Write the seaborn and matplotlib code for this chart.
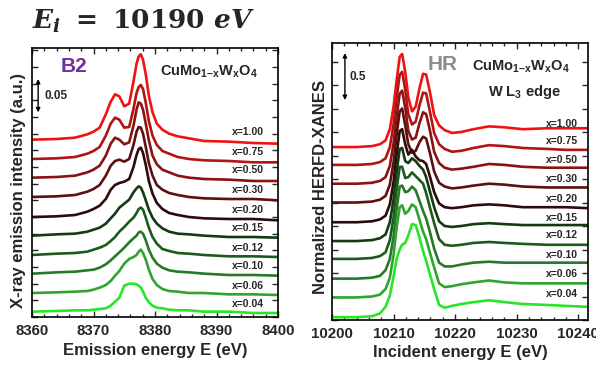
import matplotlib
matplotlib.use("Agg")
import matplotlib.pyplot as plt
import numpy as np
import pandas as pd
import seaborn as sns
from matplotlib.ticker import MultipleLocator

# ---------------- data ----------------
conc = ["1.00", "0.75", "0.50", "0.30", "0.20", "0.15", "0.12", "0.10", "0.06", "0.04"]
colors = ["#f01212", "#b01414", "#8a1212", "#5e1010", "#2e0a0a",
          "#133a13", "#1c5a1c", "#267a26", "#2fa42f", "#26e626"]

# B2 emission spectra (intensity in 1e-3 a.u. above each curve's offset)
xes_energy = [8360, 8364, 8367, 8369, 8370, 8371, 8372, 8372.8, 8373.5, 8374.2, 8375, 8375.8,
              8376.5, 8377.0, 8377.35, 8377.7, 8378.05, 8378.5, 8379, 8379.6, 8380.3, 8381.2,
              8382.3, 8383.7, 8385.5, 8388, 8392, 8396, 8400]
xes_offset = [266, 237, 209, 180, 150, 122, 93, 65, 36, 8]
xes_100 = [0, 1, 3, 8, 12, 18, 38, 57, 68, 65, 50, 54, 87, 114, 125, 128, 120, 98, 66, 41, 24, 15, 9, 5, 2, -2, -3, -5, -6]
xes_075 = [0, 1, 3, 8, 12, 18, 35, 53, 62, 59, 47, 48, 75, 99, 108, 111, 105, 84, 57, 35, 21, 12, 8, 3, 0, -2, -3, -5, -5]
xes_050 = [0, 1, 3, 8, 12, 18, 33, 51, 60, 57, 50, 53, 78, 102, 113, 111, 102, 81, 56, 33, 20, 12, 8, 3, 0, -2, -3, -5, -5]
xes_030 = [0, 1, 3, 8, 12, 18, 32, 47, 54, 56, 53, 57, 78, 98, 105, 104, 95, 75, 51, 32, 18, 11, 6, 3, 0, -2, -3, -3, -5]
xes_020 = [0, 1, 3, 8, 12, 17, 27, 41, 48, 51, 53, 57, 75, 93, 102, 104, 96, 78, 54, 35, 21, 12, 6, 3, 0, -2, -3, -3, -5]
xes_015 = [0, 2, 3, 6, 9, 12, 18, 26, 33, 42, 48, 54, 65, 71, 74, 72, 65, 53, 39, 27, 18, 11, 6, 3, 2, 0, -2, -2, -3]
xes_012 = [0, 2, 3, 5, 8, 11, 15, 21, 27, 35, 42, 50, 56, 63, 69, 71, 68, 56, 41, 27, 17, 9, 6, 3, 2, 0, -2, -2, -3]
xes_010 = [0, 2, 3, 5, 6, 9, 14, 20, 26, 32, 39, 47, 53, 57, 62, 63, 60, 50, 36, 24, 15, 9, 5, 3, 2, 0, -2, -2, -3]
xes_006 = [0, 1, 2, 3, 5, 8, 12, 18, 26, 33, 44, 51, 54, 57, 62, 65, 60, 50, 35, 21, 12, 6, 3, 2, 0, 0, -2, -2, -3]
xes_004 = [0, 1, 2, 2, 3, 4, 5, 9, 15, 21, 39, 42, 42, 41, 39, 36, 30, 21, 14, 9, 6, 5, 3, 2, 2, 0, 0, -2, -2]

# HERFD-XANES W L3 edge (normalized, in units of 0.01 above offset)
hr_energy = [10200, 10204, 10206.5, 10207.8, 10208.7, 10209.4, 10210.0, 10210.5, 10211.0, 10211.4,
             10211.9, 10212.4, 10213.0, 10213.6, 10214.2, 10214.8, 10215.3, 10215.9, 10216.6,
             10217.4, 10218.3, 10219.5, 10221, 10223, 10225.5, 10228, 10231, 10235, 10238, 10241.6]
hr_offset = [184, 165, 145, 125, 104, 84, 65, 44, 24, 3]
hr_100 = [0, 0, 1, 3, 7, 19, 43, 71, 96, 99, 80, 53, 38, 43, 62, 78, 77, 59, 34, 23, 18, 15, 16, 19, 22, 21, 19, 20, 20, 20]
hr_075 = [0, 0, 1, 3, 7, 19, 43, 71, 96, 99, 80, 54, 43, 46, 63, 77, 76, 57, 34, 22, 17, 14, 15, 18, 21, 20, 18, 17, 16, 16]
hr_050 = [0, 0, 1, 3, 7, 19, 43, 71, 96, 99, 81, 56, 47, 49, 64, 76, 74, 57, 34, 22, 17, 15, 16, 18, 21, 20, 18, 17, 17, 17]
hr_030 = [0, 0, 1, 3, 7, 19, 43, 72, 97, 100, 82, 62, 53, 55, 64, 70, 68, 53, 33, 21, 17, 15, 16, 18, 20, 19, 17, 16, 16, 16]
hr_020 = [0, 0, 1, 3, 7, 19, 43, 72, 97, 99, 83, 72, 77, 70, 66, 65, 62, 49, 32, 20, 16, 15, 16, 18, 19, 18, 16, 16, 16, 15]
hr_015 = [0, 0, 1, 3, 7, 20, 44, 73, 98, 99, 85, 83, 88, 85, 80, 76, 68, 53, 36, 21, 16, 15, 16, 18, 19, 18, 17, 17, 17, 17]
hr_012 = [0, 0, 1, 3, 7, 20, 44, 74, 98, 98, 86, 87, 92, 88, 84, 80, 70, 55, 38, 21, 15, 14, 15, 17, 18, 17, 16, 15, 15, 15]
hr_010 = [0, 0, 1, 3, 9, 21, 45, 74, 98, 99, 92, 93, 98, 94, 83, 72, 64, 50, 32, 17, 13, 13, 15, 17, 18, 17, 17, 17, 17, 17]
hr_006 = [0, 0, 1, 3, 9, 21, 45, 74, 96, 98, 89, 92, 99, 96, 83, 70, 62, 48, 32, 15, 11, 12, 14, 16, 18, 16, 15, 15, 15, 15]
hr_004 = [0, 0, 1, 4, 11, 23, 43, 62, 72, 77, 79, 87, 99, 98, 85, 70, 60, 46, 30, 13, 10, 12, 14, 16, 18, 16, 14, 13, 12, 11]

xes_curves = [xes_100, xes_075, xes_050, xes_030, xes_020, xes_015, xes_012, xes_010, xes_006, xes_004]
hr_curves = [hr_100, hr_075, hr_050, hr_030, hr_020, hr_015, hr_012, hr_010, hr_006, hr_004]


def build(energy, offsets, curves):
    rows = []
    for c, off, prof in zip(conc, offsets, curves):
        for e, v in zip(energy, prof):
            rows.append({"E": e, "I": off + v, "x": c})
    return pd.DataFrame(rows)


dfL = build(xes_energy, xes_offset, xes_curves)
dfR = build(hr_energy, hr_offset, hr_curves)

# ---------------- style ----------------
sns.set_theme(style="ticks")
plt.rcParams["font.family"] = ["Liberation Sans", "DejaVu Sans"]
plt.rcParams["font.weight"] = "bold"
plt.rcParams["mathtext.fontset"] = "custom"
plt.rcParams["mathtext.rm"] = "Liberation Sans:bold"
plt.rcParams["mathtext.it"] = "Liberation Sans:bold"
plt.rcParams["mathtext.bf"] = "Liberation Sans:bold"
plt.rcParams["axes.linewidth"] = 1.2

W, H = 596, 368
fig = plt.figure(figsize=(W / 100, H / 100), dpi=100)
fx = lambda px: px / W
fy = lambda py: 1 - py / H

axL = fig.add_axes([fx(32), fy(317), 246 / W, 269 / H])
axR = fig.add_axes([fx(332), fy(320), 256 / W, 277 / H])

pal = dict(zip(conc, colors))
sns.lineplot(data=dfL, x="E", y="I", hue="x", hue_order=conc, palette=pal, estimator=None,
             sort=False, lw=1.9, legend=False, ax=axL)
sns.lineplot(data=dfR, x="E", y="I", hue="x", hue_order=conc, palette=pal, estimator=None,
             sort=False, lw=1.9, legend=False, ax=axR)

axL.set_xlim(8360, 8400)
axL.set_ylim(0, 403.5)
axR.set_xlim(10200, 10241.6)
axR.set_ylim(0, 294.7)

for ax in (axL, axR):
    ax.xaxis.set_major_locator(MultipleLocator(10))
    ax.xaxis.set_minor_locator(MultipleLocator(2))
    ax.yaxis.set_major_locator(MultipleLocator(25))
    ax.tick_params(which="both", direction="in", top=True, right=True, width=1.0,
                   labelleft=False, labelsize=10.8, pad=5)
    ax.tick_params(which="major", length=4.5)
    ax.tick_params(which="minor", length=2.5)
    for lab in ax.get_xticklabels():
        lab.set_fontweight("bold")
    for s in ax.spines.values():
        s.set_linewidth(1.2)
        s.set_color("black")

axL.set_xlabel("Emission energy E (eV)", fontsize=12, fontweight="bold")
axL.set_ylabel("X-ray emission intensity (a.u.)", fontsize=12, fontweight="bold")
axR.set_xlabel("Incident energy E (eV)", fontsize=12, fontweight="bold")
axR.set_ylabel("Normalized HERFD-XANES", fontsize=12, fontweight="bold")
axL.xaxis.set_label_coords(0.5, -0.123)
axL.xaxis.label.set_va("center")
axR.xaxis.set_label_coords(0.5, -0.119)
axR.xaxis.label.set_va("center")
axL.yaxis.set_label_coords(-0.053, 0.47)
axL.yaxis.label.set_va("center")
axR.yaxis.set_label_coords(-0.043, 0.48)
axR.yaxis.label.set_va("center")

# concentration labels
for c, off in zip(conc, xes_offset):
    axL.text(8397.7, off + 11, f"x={c}", ha="right", va="center", fontsize=7.5, fontweight="bold")
for c, off in zip(conc, hr_offset):
    axR.text(10240, off + 25, f"x={c}", ha="right", va="center", fontsize=7.5, fontweight="bold")

# scale bars
axL.annotate("", xy=(8361, 357), xytext=(8361, 307),
             arrowprops=dict(arrowstyle="<|-|>", lw=1.0, color="black", mutation_scale=6,
                             shrinkA=0, shrinkB=0))
axL.text(8362, 332, "0.05", ha="left", va="center", fontsize=8.5, fontweight="bold")
axR.annotate("", xy=(10202.1, 284), xytext=(10202.1, 234),
             arrowprops=dict(arrowstyle="<|-|>", lw=1.0, color="black", mutation_scale=6,
                             shrinkA=0, shrinkB=0))
axR.text(10202.9, 259, "0.5", ha="left", va="center", fontsize=8.5, fontweight="bold")

# panel annotations
fig.text(fx(61), fy(66), "B2", ha="left", va="center", fontsize=15, fontweight="bold", color="#7030a0")
fig.text(fx(160), fy(76), r"CuMo$_{1\mathrm{-}x}$W$_{x}$O$_{4}$", ha="left", va="baseline",
         fontsize=10.5, fontweight="bold")
fig.text(fx(428), fy(65), "HR", ha="left", va="center", fontsize=15, fontweight="bold", color="#8c8c8c")
fig.text(fx(472), fy(71), r"CuMo$_{1\mathrm{-}x}$W$_{x}$O$_{4}$", ha="left", va="baseline",
         fontsize=10.5, fontweight="bold")
fig.text(fx(524), fy(96), r"W L$_{3}$ edge", ha="center", va="baseline", fontsize=10.5, fontweight="bold")

# title
fig.text(fx(144), fy(21), r"$\mathbfit{E_i}\ \mathbf{=\ 10190}\ \mathbfit{eV}$", ha="center", va="center",
         fontsize=19, math_fontfamily="dejavuserif")

fig.savefig("out.png", dpi=100)
